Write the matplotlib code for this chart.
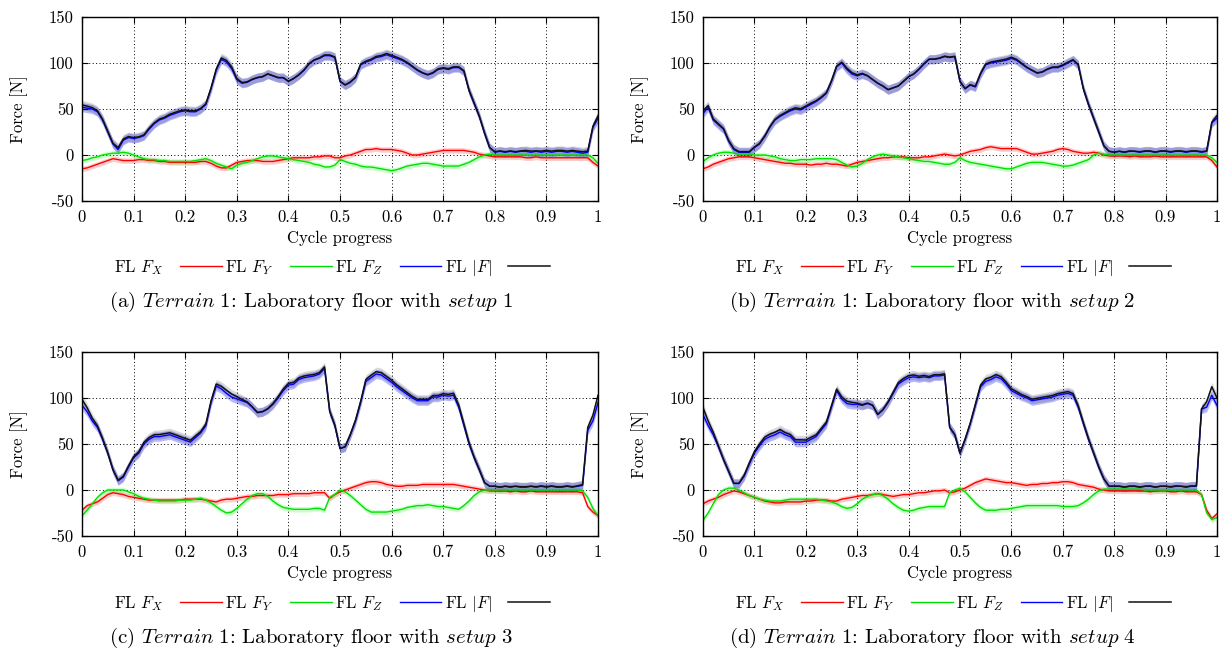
import numpy as np
import matplotlib.pyplot as plt

plt.rcParams['font.family'] = 'serif'
plt.rcParams['font.serif'] = ['cmr10']
plt.rcParams['mathtext.fontset'] = 'cm'
plt.rcParams['axes.unicode_minus'] = False

# cycle progress sampled every 1%
progress = np.linspace(0, 1, 101)

# setup 1
fx_1 = [-15, -14, -12, -10, -8, -6, -4, -5, -6, -6,
        -6, -5, -5, -6, -6, -7, -7, -8, -8, -8,
        -8, -8, -8, -7, -7, -9, -12, -14, -14, -11,
        -8, -7, -6, -6, -6, -7, -7, -7, -6, -5,
        -4, -3, -3, -3, -3, -2, -2, -1, -1, -3,
        -3, -1, 0, 2, 4, 6, 6, 7, 6, 6,
        6, 5, 4, 2, 0, 0, 1, 2, 3, 4,
        5, 5, 5, 5, 5, 4, 3, 1, 0, -1,
        -2, -2, -2, -2, -2, -2, -3, -3, -2, -3,
        -3, -3, -3, -3, -3, -3, -3, -3, -3, -8,
        -12]
fy_1 = [-6, -5, -3, -2, 0, 1, 2, 2, 3, 2,
        0, -2, -4, -5, -5, -6, -6, -7, -7, -7,
        -7, -7, -6, -5, -4, -6, -9, -11, -13, -15,
        -11, -9, -8, -6, -4, -2, -1, -1, -2, -3,
        -4, -5, -6, -7, -8, -10, -11, -13, -13, -11,
        -5, -7, -9, -10, -12, -13, -13, -14, -15, -16,
        -17, -16, -14, -12, -11, -10, -9, -9, -10, -11,
        -12, -12, -12, -12, -10, -8, -5, -2, 0, 1,
        0, 0, 0, 0, 0, 0, 0, 0, 0, 0,
        0, 0, 0, 0, 0, 0, 0, 0, 0, -3,
        -9]
fz_1 = [52, 51, 50, 47, 38, 25, 12, 6, 16, 19,
        18, 19, 21, 28, 34, 38, 40, 43, 45, 47,
        48, 47, 47, 50, 55, 72, 92, 104, 101, 94,
        82, 78, 79, 82, 84, 85, 88, 86, 84, 84,
        80, 83, 87, 92, 99, 103, 105, 108, 108, 106,
        80, 76, 79, 84, 98, 101, 103, 106, 107, 109,
        107, 105, 103, 100, 96, 92, 89, 87, 89, 93,
        94, 93, 95, 95, 91, 70, 56, 42, 24, 8,
        3, 4, 3, 4, 3, 4, 4, 3, 4, 3,
        4, 3, 4, 4, 3, 4, 3, 2, 3, 30,
        40]

# setup 2
fx_2 = [-15, -13, -10, -8, -6, -4, -3, -2, -2, -2,
        -3, -4, -5, -6, -7, -8, -9, -9, -10, -10,
        -10, -11, -10, -10, -9, -10, -10, -11, -12, -10,
        -8, -7, -6, -5, -4, -3, -3, -2, -2, -2,
        -3, -3, -3, -2, -2, -1, 0, 1, 0, -1,
        0, 2, 4, 5, 6, 8, 9, 8, 7, 7,
        7, 7, 5, 3, 1, 1, 2, 3, 4, 6,
        7, 6, 4, 3, 2, 2, 3, 2, 0, -1,
        -1, -1, -1, -2, -1, -2, -2, -2, -1, -2,
        -2, -2, -2, -2, -2, -2, -2, -2, -2, -6,
        -13]
fy_2 = [-7, -3, 0, 2, 3, 3, 2, 1, 1, 1,
        0, 0, 0, -1, -2, -4, -5, -6, -6, -5,
        -5, -5, -4, -4, -4, -4, -5, -8, -11, -13,
        -12, -9, -5, -2, 0, 1, 0, -1, -2, -3,
        -4, -5, -6, -7, -7, -8, -9, -10, -10, -8,
        -3, -6, -8, -9, -10, -11, -12, -13, -14, -15,
        -15, -13, -11, -9, -8, -8, -8, -9, -10, -11,
        -12, -12, -11, -9, -7, -5, 0, 2, 1, 0,
        0, 0, 0, 0, 0, 0, 0, 0, 0, 0,
        0, 0, 0, 0, 0, 0, 0, 0, 0, -3,
        -8]
fz_2 = [45, 52, 38, 33, 28, 15, 6, 3, 3, 3,
        8, 12, 20, 30, 38, 42, 45, 48, 50, 49,
        52, 55, 58, 62, 67, 80, 96, 100, 93, 88,
        86, 88, 86, 82, 78, 75, 71, 73, 75, 80,
        85, 88, 93, 99, 104, 104, 105, 107, 106, 107,
        80, 72, 76, 74, 88, 98, 100, 101, 102, 103,
        105, 103, 99, 95, 92, 89, 90, 93, 95, 95,
        97, 100, 103, 98, 72, 55, 40, 25, 10, 4,
        3, 4, 3, 4, 4, 3, 4, 4, 3, 4,
        4, 3, 4, 4, 3, 4, 4, 3, 4, 35,
        40]

# setup 3
fx_3 = [-22, -17, -15, -13, -9, -5, -3, -4, -5, -7,
        -8, -9, -10, -11, -11, -11, -11, -11, -11, -11,
        -10, -10, -10, -10, -11, -12, -13, -11, -10, -10,
        -9, -8, -7, -7, -6, -6, -6, -6, -5, -5,
        -5, -4, -4, -4, -4, -3, -3, -3, -9, -5,
        -2, 0, 2, 4, 6, 8, 9, 9, 8, 6,
        5, 4, 4, 5, 5, 5, 6, 6, 6, 6,
        6, 6, 6, 5, 4, 3, 2, 1, 0, -1,
        -1, -1, -1, -2, -1, -2, -2, -1, -2, -2,
        -2, -2, -2, -2, -2, -2, -2, -3, -18, -24,
        -28]
fy_3 = [-28, -22, -15, -8, -3, 0, 0, 0, 0, -2,
        -4, -7, -9, -10, -11, -12, -12, -12, -12, -11,
        -11, -11, -10, -9, -11, -14, -18, -22, -25, -24,
        -20, -15, -10, -6, -4, -4, -7, -12, -16, -19,
        -20, -21, -21, -21, -21, -20, -20, -22, -8, -5,
        0, -2, -6, -11, -16, -21, -24, -24, -24, -24,
        -23, -22, -21, -19, -18, -17, -17, -16, -17, -18,
        -18, -19, -20, -21, -17, -12, -6, -2, 0, 0,
        0, 0, 0, 0, 0, 0, 0, 0, 0, 0,
        0, 0, 0, 0, 0, 0, 0, -1, -8, -20,
        -28]
fz_3 = [92, 85, 75, 68, 55, 40, 22, 10, 14, 25,
        35, 40, 50, 55, 58, 58, 59, 60, 58, 56,
        54, 52, 57, 62, 70, 95, 113, 110, 105, 101,
        99, 97, 95, 90, 84, 85, 88, 93, 100, 108,
        114, 115, 120, 122, 123, 124, 126, 132, 85, 70,
        45, 47, 60, 75, 95, 118, 122, 126, 125, 121,
        117, 112, 108, 104, 100, 97, 97, 97, 101, 101,
        103, 102, 103, 90, 70, 50, 35, 22, 8, 4,
        4, 3, 4, 3, 4, 3, 3, 4, 3, 4,
        3, 4, 3, 3, 4, 3, 4, 5, 65, 75,
        95]

# setup 4
fx_4 = [-15, -12, -10, -8, -5, -3, -1, -2, -4, -6,
        -8, -10, -12, -13, -14, -14, -13, -13, -13, -13,
        -12, -12, -11, -11, -11, -12, -12, -10, -9, -8,
        -7, -6, -6, -5, -4, -5, -6, -7, -6, -5,
        -5, -4, -3, -3, -2, -1, -1, 0, -3, -2,
        0, 2, 5, 8, 10, 12, 11, 10, 9, 8,
        8, 7, 6, 5, 6, 6, 7, 7, 8, 8,
        9, 9, 8, 6, 5, 4, 3, 1, 0, -1,
        -1, -1, -1, -1, -1, -1, -1, -2, -1, -1,
        -1, -2, -2, -1, -2, -2, -2, -5, -22, -31,
        -26]
fy_4 = [-33, -25, -15, -5, 0, 2, 2, 0, -3, -6,
        -8, -10, -11, -12, -12, -12, -11, -10, -10, -10,
        -10, -10, -10, -11, -12, -13, -15, -18, -20, -19,
        -15, -10, -7, -5, -4, -6, -10, -15, -19, -22,
        -23, -22, -20, -19, -18, -18, -18, -18, -3, 0,
        2, -2, -8, -14, -19, -22, -22, -22, -21, -21,
        -20, -19, -18, -17, -17, -17, -17, -17, -17, -17,
        -18, -18, -18, -17, -14, -10, -5, -1, 1, 1,
        1, 1, 1, 1, 1, 1, 0, 0, 0, 0,
        0, 0, 0, 0, 0, 0, 0, -5, -25, -32,
        -30]
fz_4 = [82, 70, 60, 47, 33, 20, 7, 7, 15, 28,
        40, 48, 55, 58, 60, 63, 60, 58, 52, 52,
        52, 55, 58, 65, 72, 90, 108, 99, 94, 93,
        93, 92, 94, 92, 82, 87, 95, 105, 115, 119,
        122, 123, 122, 123, 122, 124, 124, 125, 68, 60,
        40, 55, 72, 92, 112, 118, 120, 123, 121, 115,
        108, 105, 102, 100, 97, 98, 99, 100, 101, 103,
        104, 105, 103, 90, 72, 55, 40, 25, 12, 4,
        4, 4, 3, 4, 4, 3, 4, 4, 3, 4,
        4, 3, 4, 4, 3, 4, 4, 88, 90, 103,
        92]

panel_letters = ['a', 'b', 'c', 'd']
setup_names = ['1', '2', '3', '4']
x_ticks = [0, 0.1, 0.2, 0.3, 0.4, 0.5, 0.6, 0.7, 0.8, 0.9, 1]
x_tick_labels = ['0', '0.1', '0.2', '0.3', '0.4', '0.5', '0.6', '0.7', '0.8', '0.9', '1']
y_ticks = [-50, 0, 50, 100, 150]
y_tick_labels = ['-50', '0', '50', '100', '150']

# approximate std band half widths [N]
spread_fx = 3.0
spread_fy = 3.0
spread_fz = 5.0

series = [(fx_1, fy_1, fz_1), (fx_2, fy_2, fz_2), (fx_3, fy_3, fz_3), (fx_4, fy_4, fz_4)]

fig = plt.figure(figsize=(12.2, 6.55), dpi=100)

# axes rectangles in figure fractions
rects = [(0.0672, 0.6931, 0.4230, 0.2809),
         (0.5762, 0.6931, 0.4213, 0.2809),
         (0.0672, 0.1817, 0.4230, 0.2809),
         (0.5762, 0.1817, 0.4213, 0.2809)]
legend_pos = [(0.272, 0.591), (0.781, 0.591), (0.272, 0.078), (0.781, 0.078)]
caption_pos = [(0.255, 0.539), (0.764, 0.539), (0.255, 0.026), (0.764, 0.026)]

for i, (fx, fy, fz) in enumerate(series):
    ax = fig.add_axes(rects[i])
    fx = np.array(fx, dtype=float)
    fy = np.array(fy, dtype=float)
    fz = np.array(fz, dtype=float)
    fmag = np.sqrt(fx**2 + fy**2 + fz**2)

    ax.fill_between(progress, fx - spread_fx, fx + spread_fx, color='#ff0000', alpha=0.2, lw=0)
    ax.fill_between(progress, fy - spread_fy, fy + spread_fy, color='#00ff00', alpha=0.2, lw=0)
    ax.fill_between(progress, fz - spread_fz, fz + spread_fz, color='#0000ff', alpha=0.28, lw=0)
    ax.fill_between(progress, fmag - spread_fz, fmag + spread_fz, color='#000000', alpha=0.15, lw=0)

    l1, = ax.plot(progress, fx, color='#ff0000', lw=1.0)
    l2, = ax.plot(progress, fy, color='#00e000', lw=1.0)
    l3, = ax.plot(progress, fz, color='#0000ff', lw=1.0)
    l4, = ax.plot(progress, fmag, color='#111111', lw=1.1)

    ax.set_xlim(0, 1)
    ax.set_ylim(-50, 150)
    ax.set_xticks(x_ticks)
    ax.set_xticklabels(x_tick_labels)
    ax.set_yticks(y_ticks)
    ax.set_yticklabels(y_tick_labels)
    ax.tick_params(direction='in', length=4, top=True, right=True, labelsize=12, pad=6)
    ax.grid(True, color='black', linestyle=(0, (1, 2.5)), linewidth=0.7)
    ax.set_axisbelow(True)
    for sp in ax.spines.values():
        sp.set_linewidth(1.0)

    ax.set_xlabel('Cycle progress', fontsize=12, labelpad=4)
    ax.set_ylabel('Force [N]', fontsize=12)
    ax.yaxis.set_label_coords(-0.105, 0.5)

    ax.legend([l1, l2, l3, l4],
              [r'FL $F_X$', r'FL $F_Y$', r'FL $F_Z$', r'FL $|F|$'],
              loc='center', bbox_to_anchor=legend_pos[i], bbox_transform=fig.transFigure,
              ncol=4, frameon=False, markerfirst=False, handlelength=2.5,
              handletextpad=1.0, columnspacing=0.2, fontsize=12)

    cap = '(' + panel_letters[i] + r') $\mathit{Terrain\ 1}$: Laboratory floor with $\mathit{setup\ ' + setup_names[i] + '}$'
    fig.text(caption_pos[i][0], caption_pos[i][1], cap, ha='center', va='center', fontsize=15)

fig.savefig('out.png', dpi=100)
